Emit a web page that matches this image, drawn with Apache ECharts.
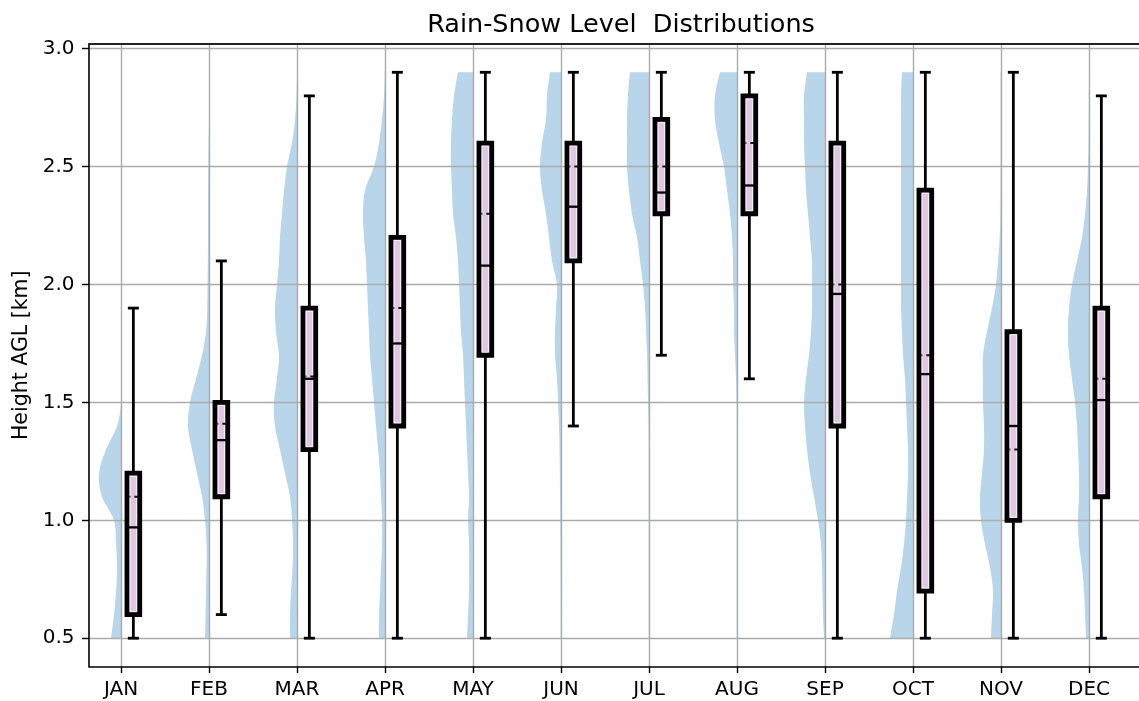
<!DOCTYPE html>
<html>
<head>
<meta charset="utf-8">
<script src="https://cdn.jsdelivr.net/npm/echarts@6/dist/echarts.min.js"></script>
<style>
  html, body { margin: 0; padding: 0; background: #ffffff; }
  #chart { width: 1139px; height: 701px; }
</style>
</head>
<body>
<div id="chart"></div>
<script>
// Monthly rain-snow level statistics (height above ground level, km)
const months = ['JAN', 'FEB', 'MAR', 'APR', 'MAY', 'JUN', 'JUL', 'AUG', 'SEP', 'OCT', 'NOV', 'DEC'];
const whiskerLow  = [0.50, 0.60, 0.50, 0.50, 0.50, 1.40, 1.70, 1.60, 0.50, 0.50, 0.50, 0.50];
const quartile1   = [0.60, 1.10, 1.30, 1.40, 1.70, 2.10, 2.30, 2.30, 1.40, 0.70, 1.00, 1.10];
const medians     = [0.97, 1.34, 1.60, 1.75, 2.08, 2.33, 2.39, 2.42, 1.96, 1.62, 1.40, 1.51];
const means       = [1.10, 1.41, 1.61, 1.90, 2.30, 2.50, 2.50, 2.60, 2.00, 1.70, 1.30, 1.60];
const quartile3   = [1.20, 1.50, 1.90, 2.20, 2.60, 2.60, 2.70, 2.80, 2.60, 2.40, 1.80, 1.90];
const whiskerHigh = [1.90, 2.10, 2.80, 2.90, 2.90, 2.90, 2.90, 2.90, 2.90, 2.90, 2.90, 2.80];

// Height levels at which the kernel density of each month is sampled
const heightLevels = [0.5, 0.6, 0.7, 0.8, 0.9, 1.0, 1.1, 1.2, 1.3, 1.4, 1.5, 1.6, 1.7,
                      1.8, 1.9, 2.0, 2.1, 2.2, 2.3, 2.4, 2.5, 2.6, 2.7, 2.8, 2.9];

// Relative density per month along heightLevels
const densityJan = [10, 7, 5, 4, 5, 7, 19, 22, 15, 4, 0, 0, 0, 0, 0, 0, 0, 0, 0, 0, 0, 0, 0, 0, 0];
const densityFeb = [4, 3.5, 3, 2.5, 2.5, 4, 7, 12, 17, 21, 19, 13, 7, 3, 1.8, 1.5, 1.2, 1, 1, 1, 0.8, 0.4, 0, 0, 0];
const densityMar = [7, 7, 6, 4.5, 4, 5, 7, 12, 17, 22, 23, 20, 18, 21, 22, 20, 18, 17, 15, 13, 10, 5, 2, 0.5, 0];
const densityApr = [6, 6, 5, 4, 3, 3, 4, 5, 7, 9, 11, 13, 15, 16, 17, 18, 19, 21, 22, 20, 11, 6, 3, 1, 0.3];
const densityMay = [6, 5, 4, 4, 4, 5, 4, 5, 6, 7, 8, 9, 10, 12, 13, 14, 15, 17, 20, 21, 22, 22, 21, 19, 15];
const densityJun = [0.3, 0.3, 0.4, 0.5, 0.6, 0.8, 1, 1.2, 1.5, 2, 3, 4, 6, 6, 5, 4, 9, 12, 15, 19, 21, 19, 15, 14, 11];
const densityJul = [0.3, 0.3, 0.3, 0.3, 0.3, 0.3, 0.3, 0.3, 0.3, 0.5, 1, 1.5, 2, 3, 4, 6, 9, 12, 17, 20, 22, 22, 22, 21, 19];
const densityAug = [0.3, 0.3, 0.3, 0.3, 0.3, 0.3, 0.3, 0.3, 0.3, 0.3, 0.5, 1, 2, 3, 3, 4, 4, 5, 7, 10, 13, 18, 22, 22, 17];
const densitySep = [1, 2, 2.5, 3, 4, 7, 11, 15, 18, 20, 21, 19, 16, 14, 13, 13, 13, 15, 17, 19, 20, 21, 21, 21, 18];
const densityOct = [23, 19, 16, 12, 9, 7, 6, 5, 5, 6, 7, 8, 10, 11, 12, 12, 12, 12, 12, 12, 12, 12, 12, 12, 11];
const densityNov = [10, 9, 8, 11, 16, 20, 21, 19, 17, 17, 18, 18, 18, 14, 9, 5, 3, 1.3, 0.7, 0.6, 0.5, 0.5, 0.5, 0.5, 0.5];
const densityDec = [3, 4, 5, 7, 10, 11, 10, 10, 11, 12, 14, 17, 20, 21, 20, 17, 12, 7, 4, 2, 1, 0.5, 0.3, 0.2, 0];

const densities = [densityJan, densityFeb, densityMar, densityApr, densityMay, densityJun,
                   densityJul, densityAug, densitySep, densityOct, densityNov, densityDec];

const yTicks = [0.5, 1.0, 1.5, 2.0, 2.5, 3.0];
const xTicks = [1, 2, 3, 4, 5, 6, 7, 8, 9, 10, 11, 12];

// Drawing parameters
const VIOLIN_SCALE = 0.0114;   // x units per density unit
const BOX_OFFSET = 0.14;       // box centre shift right of the month position
const BOX_WIDTH = 0.145;
const CAP_WIDTH = 0.125;
const FONT = 'DejaVu Sans';
const GRID_COLOR = '#ababab';

const chart = echarts.init(document.getElementById('chart'), null, { renderer: 'canvas' });

// Half violin: smooth outline through the sampled widths, flat side on the month line
function renderViolin(params, api) {
  const i = params.dataIndex;
  const pos = api.value(0);
  const dens = densities[i];
  const n = heightLevels.length;
  const pts = [];
  for (let k = 0; k < n; k++) {
    pts.push(api.coord([pos - dens[k] * VIOLIN_SCALE, heightLevels[k]]));
  }
  const bottom = api.coord([pos, heightLevels[0]]);
  const top = api.coord([pos, heightLevels[n - 1]]);
  const edgeX = bottom[0];
  const f = function (v) { return v.toFixed(2); };
  let d = 'M' + f(bottom[0]) + ' ' + f(bottom[1]) + ' L' + f(pts[0][0]) + ' ' + f(pts[0][1]);
  for (let k = 0; k < n - 1; k++) {
    const p0 = pts[Math.max(k - 1, 0)];
    const p1 = pts[k];
    const p2 = pts[k + 1];
    const p3 = pts[Math.min(k + 2, n - 1)];
    const c1x = Math.min(p1[0] + (p2[0] - p0[0]) / 6, edgeX);
    const c1y = p1[1] + (p2[1] - p0[1]) / 6;
    const c2x = Math.min(p2[0] - (p3[0] - p1[0]) / 6, edgeX);
    const c2y = p2[1] - (p3[1] - p1[1]) / 6;
    d += ' C' + f(c1x) + ' ' + f(c1y) + ' ' + f(c2x) + ' ' + f(c2y) + ' ' + f(p2[0]) + ' ' + f(p2[1]);
  }
  d += ' L' + f(top[0]) + ' ' + f(top[1]) + ' Z';
  return {
    type: 'path',
    shape: { pathData: d },
    style: { fill: '#b9d5ea', stroke: null }
  };
}

// Box with whiskers, caps, median line and dotted mean mark
function renderBox(params, api) {
  const i = params.dataIndex;
  const cx = api.coord([api.value(0) + BOX_OFFSET, 0])[0];
  const half = api.size([BOX_WIDTH, 0])[0] / 2;
  const capHalf = api.size([CAP_WIDTH, 0])[0] / 2;
  const yLow = api.coord([0, whiskerLow[i]])[1];
  const yQ1 = api.coord([0, quartile1[i]])[1];
  const yMed = api.coord([0, medians[i]])[1];
  const yMean = api.coord([0, means[i]])[1];
  const yQ3 = api.coord([0, quartile3[i]])[1];
  const yHigh = api.coord([0, whiskerHigh[i]])[1];
  const black = '#000000';
  return {
    type: 'group',
    children: [
      { type: 'line', shape: { x1: cx, y1: yLow, x2: cx, y2: yQ1 }, style: { stroke: black, lineWidth: 2.8 } },
      { type: 'line', shape: { x1: cx, y1: yQ3, x2: cx, y2: yHigh }, style: { stroke: black, lineWidth: 2.8 } },
      { type: 'line', shape: { x1: cx - capHalf, y1: yLow, x2: cx + capHalf, y2: yLow }, style: { stroke: black, lineWidth: 2.8 } },
      { type: 'line', shape: { x1: cx - capHalf, y1: yHigh, x2: cx + capHalf, y2: yHigh }, style: { stroke: black, lineWidth: 2.8 } },
      { type: 'rect', shape: { x: cx - half, y: yQ3, width: half * 2, height: yQ1 - yQ3 },
        style: { fill: '#dfc6e2', stroke: black, lineWidth: 4.8 } },
      { type: 'rect', shape: { x: cx - half + 3.2, y: yQ3 + 3.2, width: half * 2 - 6.4, height: yQ1 - yQ3 - 6.4 },
        style: { fill: null, stroke: 'rgba(255,255,255,0.75)', lineWidth: 0.9 } },
      { type: 'line', shape: { x1: cx - half, y1: yMed, x2: cx + half, y2: yMed }, style: { stroke: black, lineWidth: 2.3 } },
      { type: 'line', shape: { x1: cx - 4, y1: yMean, x2: cx + 5, y2: yMean },
        style: { stroke: '#111111', lineWidth: 2, lineDash: [1, 4, 4] } }
    ]
  };
}

const positions = xTicks.map(function (p) { return [p]; });

const option = {
  backgroundColor: '#ffffff',
  animation: false,
  title: {
    text: 'Rain-Snow Level  Distributions',
    left: 616,
    top: 7,
    textAlign: 'center',
    textStyle: { fontFamily: FONT, fontSize: 25.5, fontWeight: 'normal', color: '#000000' }
  },
  grid: { left: 89, right: 0, top: 44, bottom: 34.5, containLabel: false },
  xAxis: [
    {
      type: 'value', min: 0.636, max: 12.568, position: 'bottom',
      axisLine: { show: true, onZero: false, lineStyle: { color: '#000000', width: 1.6 } },
      axisTick: { show: true, length: 6.5, customValues: xTicks, lineStyle: { color: '#000000', width: 1.4 } },
      axisLabel: {
        customValues: xTicks, margin: 13, fontFamily: FONT, fontSize: 20, color: '#000000',
        formatter: function (v) { return months[Math.round(v) - 1] || ''; }
      },
      splitLine: { show: true, lineStyle: { color: GRID_COLOR, width: 1.4 } }
    },
    {
      type: 'value', min: 0.636, max: 12.568, position: 'top',
      axisLine: { show: true, onZero: false, lineStyle: { color: '#222222', width: 2 } },
      axisTick: { show: false }, axisLabel: { show: false }, splitLine: { show: false }
    }
  ],
  yAxis: {
    type: 'value', min: 0.38, max: 3.02,
    name: 'Height AGL [km]', nameLocation: 'middle', nameGap: 54,
    nameTextStyle: { fontFamily: FONT, fontSize: 20.5, color: '#000000' },
    axisLine: { show: true, onZero: false, lineStyle: { color: '#000000', width: 1.6 } },
    axisTick: { show: true, length: 7, customValues: yTicks, lineStyle: { color: '#000000', width: 1.4 } },
    axisLabel: {
      customValues: yTicks, margin: 14.5, fontFamily: FONT, fontSize: 20, color: '#000000',
      formatter: function (v) { return v.toFixed(1); }
    },
    splitLine: { show: true, lineStyle: { color: GRID_COLOR, width: 1.4 } }
  },
  series: [
    {
      name: 'density', type: 'custom', renderItem: renderViolin, data: positions,
      z: -1, silent: true, clip: true
    },
    {
      name: 'box', type: 'custom', renderItem: renderBox, data: positions,
      z: 5, silent: true, clip: false
    }
  ]
};

chart.setOption(option);
</script>
</body>
</html>
